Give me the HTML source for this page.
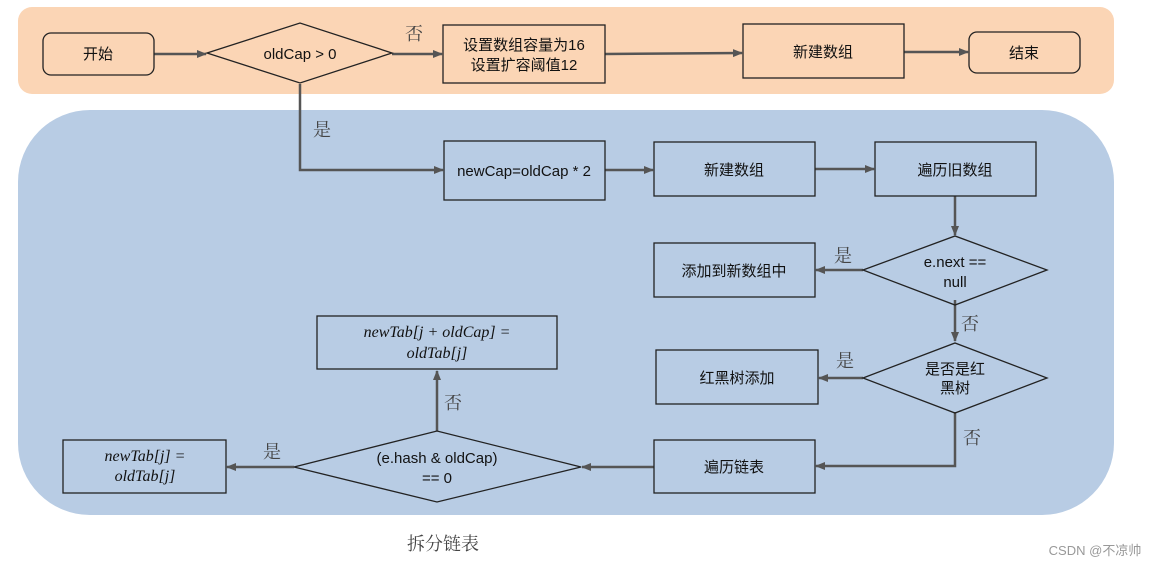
<!DOCTYPE html>
<html><head><meta charset="utf-8"><style>
html,body{margin:0;padding:0;background:#fff;}
svg{display:block;}
text{font-family:"Liberation Sans","Noto Sans CJK SC",sans-serif;font-size:15px;fill:#111;}
.lbl{font-family:"Noto Serif CJK SC","Liberation Serif",serif;font-size:18px;fill:#444;}
.it{font-family:"Liberation Serif",serif;font-style:italic;font-size:16px;}
</style></head><body>
<svg width="1158" height="566" viewBox="0 0 1158 566" xmlns="http://www.w3.org/2000/svg">
<defs><marker id="a" markerWidth="10" markerHeight="10" refX="9" refY="5" orient="auto" markerUnits="userSpaceOnUse"><path d="M0,1 L10,5 L0,9 z" fill="#555"/></marker></defs>
<rect x="18" y="7" width="1096" height="87" rx="14" fill="#fbd5b5"/>
<rect x="18" y="110" width="1096" height="405" rx="72" fill="#b8cce4"/>
<g stroke="#555" stroke-width="2.5" fill="none" marker-end="url(#a)">
<line x1="154" y1="54" x2="206" y2="54"/>
<line x1="392" y1="54" x2="442" y2="54"/>
<line x1="605" y1="54" x2="742" y2="53"/>
<line x1="904" y1="52" x2="968" y2="52"/>
<polyline points="300,84 300,170 443,170"/>
<line x1="605" y1="170" x2="653" y2="170"/>
<line x1="815" y1="169" x2="874" y2="169"/>
<line x1="955" y1="196" x2="955" y2="235"/>
<line x1="863" y1="270" x2="816" y2="270"/>
<line x1="955" y1="300" x2="955" y2="341"/>
<line x1="863" y1="378" x2="819" y2="378"/>
<polyline points="955,412 955,466 816,466"/>
<line x1="654" y1="467" x2="582" y2="467"/>
<line x1="437" y1="431" x2="437" y2="371"/>
<line x1="294" y1="467" x2="227" y2="467"/>
</g>
<g stroke="#222" stroke-width="1.3" fill="none">
<rect x="43" y="33" width="111" height="42" rx="8"/>
<polygon points="207,53 300,23 392,53 300,83"/>
<rect x="443" y="25" width="162" height="58"/>
<rect x="743" y="24" width="161" height="54"/>
<rect x="969" y="32" width="111" height="41" rx="8"/>
<rect x="444" y="141" width="161" height="59"/>
<rect x="654" y="142" width="161" height="54"/>
<rect x="875" y="142" width="161" height="54"/>
<polygon points="863,270 955,236 1047,270 955,305"/>
<rect x="654" y="243" width="161" height="54"/>
<polygon points="863,378 955,343 1047,378 955,413"/>
<rect x="656" y="350" width="162" height="54"/>
<rect x="654" y="440" width="161" height="53"/>
<polygon points="294,467 437,431 581,467 437,502"/>
<rect x="317" y="316" width="240" height="53"/>
<rect x="63" y="440" width="163" height="53"/>
</g>
<g text-anchor="middle">
<text x="98" y="59">开始</text>
<text x="300" y="59">oldCap &gt; 0</text>
<text x="524" y="50">设置数组容量为16</text>
<text x="524" y="70">设置扩容阈值12</text>
<text x="823" y="57">新建数组</text>
<text x="1024" y="58">结束</text>
<text x="524" y="176">newCap=oldCap * 2</text>
<text x="734" y="175">新建数组</text>
<text x="955" y="175">遍历旧数组</text>
<text x="955" y="267">e.next ==</text>
<text x="955" y="287">null</text>
<text x="734" y="276">添加到新数组中</text>
<text x="955" y="374">是否是红</text>
<text x="955" y="393">黑树</text>
<text x="737" y="383">红黑树添加</text>
<text x="734" y="472">遍历链表</text>
<text x="437" y="463">(e.hash &amp; oldCap)</text>
<text x="437" y="483">== 0</text>
<text class="it" x="437" y="337">newTab[j + oldCap] =</text>
<text class="it" x="437" y="358">oldTab[j]</text>
<text class="it" x="145" y="461">newTab[j] =</text>
<text class="it" x="145" y="481">oldTab[j]</text>
<text class="lbl" x="414" y="40">否</text>
<text class="lbl" x="322" y="136">是</text>
<text class="lbl" x="843" y="262">是</text>
<text class="lbl" x="970" y="330">否</text>
<text class="lbl" x="845" y="367">是</text>
<text class="lbl" x="972" y="444">否</text>
<text class="lbl" x="453" y="409">否</text>
<text class="lbl" x="272" y="458">是</text>
<text class="lbl" x="443" y="550">拆分链表</text>
<text x="1095" y="555" style="font-size:13px;fill:#999">CSDN @不凉帅</text>
</g>
</svg>
</body></html>
